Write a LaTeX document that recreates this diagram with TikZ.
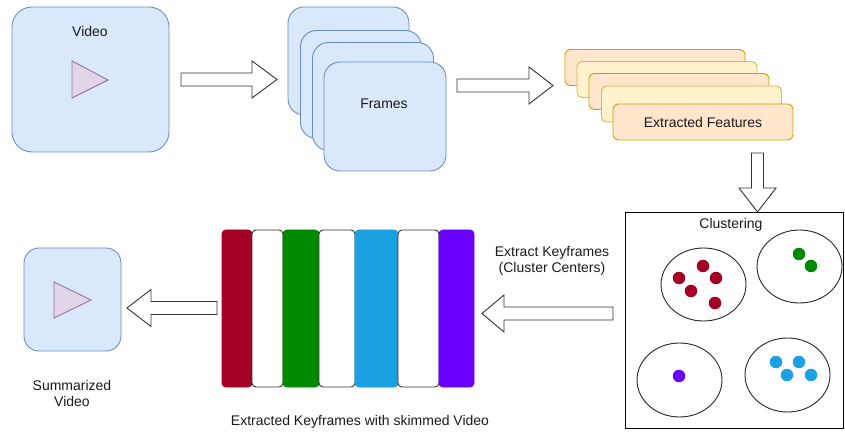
\documentclass[tikz,border=0pt]{standalone}
\usepackage{fontspec}
\setmainfont{Liberation Sans}
\usetikzlibrary{shapes.geometric}
\definecolor{vfill}{HTML}{DAE8FC}
\definecolor{vstroke}{HTML}{6C8EBF}
\definecolor{tfill}{HTML}{E1D5E7}
\definecolor{tstroke}{HTML}{9673A6}
\definecolor{ofill}{HTML}{FFE6CC}
\definecolor{ostroke}{HTML}{D79B00}
\definecolor{yfill}{HTML}{FFF2CC}
\definecolor{ystroke}{HTML}{D6B656}
\definecolor{cred}{HTML}{A20025}
\definecolor{cgreen}{HTML}{008A00}
\definecolor{cblue}{HTML}{1BA1E2}
\definecolor{cpurple}{HTML}{6A00FF}
\definecolor{txt}{HTML}{1A1A1A}
\definecolor{arr}{HTML}{333333}
\tikzset{
  lbl/.style={font=\fontsize{14}{16.5}\selectfont, text=txt, inner sep=0pt, align=center},
  vbox/.style={draw=vstroke, fill=vfill, line width=0.9pt, inner sep=0pt},
  fbox/.style={vbox, rounded corners=16pt, minimum width=121pt, minimum height=108pt},
  obox/.style={draw=ostroke, fill=ofill, line width=0.9pt, rounded corners=5pt, minimum width=180pt, minimum height=36pt, inner sep=0pt},
  ybox/.style={obox, draw=ystroke, fill=yfill},
  barrow/.style={draw=arr, fill=white, line width=0.9pt, line join=miter},
  clus/.style={ellipse, draw=black!85, line width=0.9pt, minimum width=85pt, minimum height=73pt, inner sep=0pt},
  dot/.style={circle, minimum size=12.5pt, inner sep=0pt},
  kbar/.style={rounded corners=4pt, line width=0.9pt, minimum height=157pt, inner sep=0pt},
}
\newcommand\harrow[4]{\draw[barrow] (#1,#4-6.5) -- (#2,#4-6.5) -- (#2,#4-18.5) -- (#3,#4) -- (#2,#4+18.5) -- (#2,#4+6.5) -- (#1,#4+6.5) -- cycle;}
\begin{document}
\begin{tikzpicture}[x=1pt,y=-1pt]
\useasboundingbox (0,0) rectangle (845,435);
% Video
\node[vbox, rounded corners=20pt, minimum width=157pt, minimum height=145pt] (video) at (90.5,79.5) {};
\node[lbl] (videol) at (90,32) {Video};
\draw[draw=tstroke, fill=tfill, line width=0.9pt] (72,61) -- (108,80) -- (72,98) -- cycle;
% Arrow 1
\harrow{181}{252}{277}{79.5}
% Frames
\node[fbox] (f1) at (348.5,61) {};
\node[fbox] (f2) at (361,84.5) {};
\node[fbox] (f3) at (373,96.5) {};
\node[fbox, minimum width=122pt, minimum height=109pt] (f4) at (385,116.5) {};
\node[lbl] (framesl) at (384,104) {Frames};
% Arrow 2
\harrow{457}{529}{553}{85.5}
% Features
\node[obox] (e1) at (655,67.5) {};
\node[ybox] (e2) at (667,79.5) {};
\node[obox] (e3) at (679,91.5) {};
\node[ybox] (e4) at (691.5,104) {};
\node[obox] (e5) at (703,122) {};
\node[lbl] (featl) at (703,122) {Extracted Features};
% Arrow 3 (down)
\draw[barrow] (751.5,153) -- (763.5,153) -- (763.5,188) -- (776,188) -- (757.5,212) -- (739,188) -- (751.5,188) -- cycle;
% Clustering box
\draw[draw=black, line width=0.9pt] (625,212) rectangle (843,428);
\node[lbl] (clusl) at (731,225) {Clustering};
\node[clus] (c1) at (703.5,284.5) {};
\node[clus] (c2) at (799.5,266.5) {};
\node[clus, minimum height=74pt] (c3) at (679.5,380) {};
\node[clus, minimum height=74pt] (c4) at (787.5,375) {};
\foreach \p in {(679,278),(703,266),(716,278),(691,291),(715,303)} \node[dot, fill=cred] at \p {};
\foreach \p in {(799,254),(811,266)} \node[dot, fill=cgreen] at \p {};
\node[dot, fill=cpurple] at (679,376) {};
\foreach \p in {(776,362),(799,362),(787,375),(811,375)} \node[dot, fill=cblue] at \p {};
% Arrow 4 (left)
\harrow{613}{504}{482}{313.5}
\node[lbl] (extl) at (552,261) {Extract Keyframes\\(Cluster Centers)};
% Bars
\node[kbar, draw=cred, fill=cred, minimum width=30pt] (b1) at (237,308.5) {};
\node[kbar, draw=arr, fill=white, minimum width=31pt] (b2) at (267.5,308.5) {};
\node[kbar, draw=cgreen, fill=cgreen, minimum width=36pt] (b3) at (301,308.5) {};
\node[kbar, draw=arr, fill=white, minimum width=36pt] (b4) at (337,308.5) {};
\node[kbar, draw=cblue, fill=cblue, minimum width=43pt] (b5) at (376.5,308.5) {};
\node[kbar, draw=arr, fill=white, minimum width=41pt] (b6) at (418.5,308.5) {};
\node[kbar, draw=cpurple, fill=cpurple, minimum width=35pt] (b7) at (456.5,308.5) {};
\node[lbl] (barsl) at (360,422) {Extracted Keyframes with skimmed Video};
% Arrow 5 (left)
\harrow{217}{151}{127}{308}
% Summarized video
\node[vbox, rounded corners=15pt, minimum width=97pt, minimum height=103pt] (sum) at (72.5,299.5) {};
\draw[draw=tstroke, fill=tfill, line width=0.9pt] (54,282) -- (91,300) -- (54,318) -- cycle;
\node[lbl] (suml) at (72,393.5) {Summarized\\Video};
\end{tikzpicture}
\end{document}
